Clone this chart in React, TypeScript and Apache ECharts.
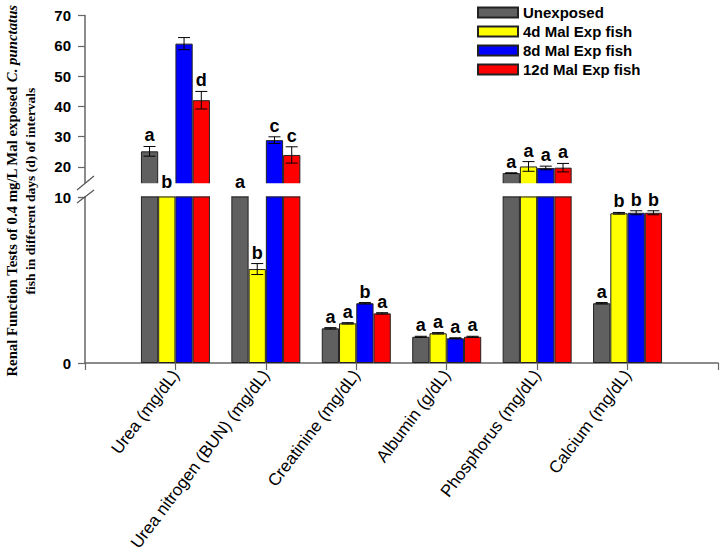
import React, { useEffect, useRef } from "react";
import * as echarts from "echarts";

const categories = [
  "Urea (mg/dL)",
  "Urea nitrogen (BUN) (mg/dL)",
  "Creatinine (mg/dL)",
  "Albumin (g/dL)",
  "Phosphorus (mg/dL)",
  "Calcium (mg/dL)",
];
const seriesNames = ["Unexposed", "4d Mal Exp fish", "8d Mal Exp fish", "12d Mal Exp fish"];
const seriesColors = ["#606060", "#ffff00", "#0000ff", "#ff0000"];

const unexposed = [25.1, 12, 2.09, 1.58, 17.9, 3.6];
const d4 = [12, 5.66, 2.39, 1.79, 20.1, 9.02];
const d8 = [60.7, 28.8, 3.6, 1.49, 19.6, 9.05];
const d12 = [42.0, 23.9, 2.99, 1.58, 19.7, 9.05];

const unexposedErr = [1.6, 0, 0.04, 0.03, 0.1, 0.04];
const d4Err = [0, 0.33, 0.04, 0.04, 1.6, 0.05];
const d8Err = [2.0, 1.1, 0.04, 0.03, 0.6, 0.12];
const d12Err = [2.9, 2.7, 0.04, 0.03, 1.4, 0.12];

const unexposedLetters = ["a", "a", "a", "a", "a", "a"];
const d4Letters = ["b", "b", "a", "a", "a", "b"];
const d8Letters = ["", "c", "b", "a", "a", "b"];
const d12Letters = ["d", "c", "a", "a", "a", "b"];

const upperTicks = [10, 20, 30, 40, 50, 60, 70];
const lowerTicks = [0, 10];

const values = [unexposed, d4, d8, d12];
const errors = [unexposedErr, d4Err, d8Err, d12Err];
const letters = [unexposedLetters, d4Letters, d8Letters, d12Letters];

const axisCats = ["", ...categories, ""];
const BREAK_LOW = 10;
const BREAK_HIGH = 15;
const GAP = 0.237;

type Item = { ci: number; s: number; v: number; e: number; letter: string };
const items: Item[] = [];
values.forEach((arr, s) => {
  arr.forEach((v, i) => {
    items.push({ ci: i + 1, s, v, e: errors[s][i], letter: letters[s][i] });
  });
});

const FONT = '"Liberation Sans", Arial, sans-serif';
const SERIF = '"Liberation Serif", "Times New Roman", serif';

function makeRender(upper: boolean) {
  return (params: any, api: any) => {
    const it = items[params.dataIndex];
    const band = api.size([1, 0])[0];
    const barW = (band * (1 - GAP)) / 4;
    const cx = api.coord([it.ci, 0])[0] + (it.s - 1.5) * barW;
    const children: any[] = [];
    let letterY: number | null = null;
    const inUpper = it.v >= BREAK_HIGH;
    const inLower = it.v <= BREAK_LOW;
    if ((upper && inUpper) || (!upper && inLower)) {
      const yTop = api.coord([it.ci, it.v + it.e])[1];
      const yBot = api.coord([it.ci, it.v - it.e])[1];
      if (it.e > 0) {
        const cap = 6;
        children.push(
          { type: "line", shape: { x1: cx, y1: yTop, x2: cx, y2: yBot }, style: { stroke: "#000", lineWidth: 1 } },
          { type: "line", shape: { x1: cx - cap, y1: yTop, x2: cx + cap, y2: yTop }, style: { stroke: "#000", lineWidth: 1 } },
          { type: "line", shape: { x1: cx - cap, y1: yBot, x2: cx + cap, y2: yBot }, style: { stroke: "#000", lineWidth: 1 } }
        );
      }
      letterY = yTop - 2;
    } else if (!upper && !inLower && !inUpper) {
      letterY = api.coord([it.ci, BREAK_LOW])[1] - 6;
    }
    if (letterY !== null && it.letter) {
      children.push({
        type: "text",
        x: cx,
        y: letterY,
        style: {
          text: it.letter,
          font: "bold 18px " + FONT,
          fill: "#000",
          align: "center",
          verticalAlign: "bottom",
        },
      });
    }
    return { type: "group", children };
  };
}

export default function App() {
  const ref = useRef<HTMLDivElement>(null);
  useEffect(() => {
    if (!ref.current) return;
    const chart = echarts.init(ref.current, null, { renderer: "svg" });
    const left = 85;
    const width = 633;
    const axisLineStyle = { color: "#666", width: 1.5 };
    const yLabel = { color: "#000", fontWeight: "bold" as const, fontSize: 15, fontFamily: FONT, margin: 14 };

    const barSeries: any[] = [];
    [0, 1].forEach((g) => {
      values.forEach((arr, s) => {
        barSeries.push({
          type: "bar",
          name: seriesNames[s],
          xAxisIndex: g,
          yAxisIndex: g,
          data: ["-", ...arr, "-"],
          barGap: "0%",
          barCategoryGap: (GAP * 100).toFixed(1) + "%",
          clip: true,
          itemStyle: { color: seriesColors[s], borderColor: "#222", borderWidth: 1 },
          emphasis: { disabled: true },
        });
      });
    });

    const customData = items.map((it) => [it.ci, it.s, it.v, it.e]);

    chart.setOption({
      animation: false,
      grid: [
        { left, width, top: 15.5, height: 181.5 },
        { left, width, top: 197, height: 166 },
      ],
      legend: {
        data: seriesNames,
        orient: "vertical",
        left: 472,
        top: 0,
        itemWidth: 40,
        itemHeight: 10,
        itemGap: 4,
        icon: "rect",
        selectedMode: false,
        textStyle: { color: "#000", fontWeight: "bold", fontSize: 15, fontFamily: FONT },
      },
      xAxis: [
        {
          gridIndex: 0,
          type: "category",
          data: axisCats,
          boundaryGap: false,
          axisLine: { show: false },
          axisTick: { show: false },
          axisLabel: { show: false },
          splitLine: { show: false },
        },
        {
          gridIndex: 1,
          type: "category",
          data: axisCats,
          boundaryGap: false,
          axisLine: { lineStyle: axisLineStyle },
          axisTick: { show: true, length: 7, lineStyle: { color: "#666", width: 1.2 }, alignWithLabel: true },
          axisLabel: {
            rotate: 53,
            interval: 0,
            color: "#000",
            fontSize: 17,
            fontFamily: FONT,
            margin: 9,
          },
          splitLine: { show: false },
        },
      ],
      yAxis: [
        {
          gridIndex: 0,
          type: "value",
          min: upperTicks[0],
          max: upperTicks[upperTicks.length - 1],
          interval: 10,
          axisLine: { show: true, lineStyle: axisLineStyle },
          axisTick: { show: true, length: 7, lineStyle: { color: "#666", width: 1.2 } },
          axisLabel: { ...yLabel, formatter: (v: number) => (v === upperTicks[0] ? "" : String(v)) },
          splitLine: { show: false },
        },
        {
          gridIndex: 1,
          type: "value",
          min: lowerTicks[0],
          max: lowerTicks[lowerTicks.length - 1],
          interval: 10,
          axisLine: { show: true, lineStyle: axisLineStyle },
          axisTick: { show: true, length: 7, lineStyle: { color: "#666", width: 1.2 } },
          axisLabel: yLabel,
          splitLine: { show: false },
        },
      ],
      series: [
        ...barSeries,
        {
          type: "custom",
          xAxisIndex: 0,
          yAxisIndex: 0,
          z: 100,
          encode: { x: 0, y: 2 },
          data: customData,
          renderItem: makeRender(true),
          silent: true,
        },
        {
          type: "custom",
          xAxisIndex: 1,
          yAxisIndex: 1,
          z: 100,
          encode: { x: 0, y: 2 },
          data: customData,
          renderItem: makeRender(false),
          silent: true,
        },
      ],
      graphic: [
        {
          type: "rect",
          z: 50,
          shape: { x: 80, y: 183.2, width: 642, height: 13.1 },
          style: { fill: "#fff" },
          silent: true,
        },
        {
          type: "line",
          z: 60,
          shape: { x1: 77, y1: 190, x2: 94, y2: 176 },
          style: { stroke: "#555", lineWidth: 1.2 },
        },
        {
          type: "line",
          z: 60,
          shape: { x1: 77, y1: 203, x2: 94, y2: 190 },
          style: { stroke: "#555", lineWidth: 1.2 },
        },
        {
          type: "text",
          x: 12,
          y: 191,
          rotation: Math.PI / 2,
          style: {
            text: "{n|Renal Function Tests of 0.4 mg/L Mal exposed }{i|C. punctatus}",
            align: "center",
            verticalAlign: "middle",
            rich: {
              n: { fontFamily: SERIF, fontWeight: "bold", fontSize: 14.8, fill: "#000" },
              i: { fontFamily: SERIF, fontWeight: "bold", fontStyle: "italic", fontSize: 14.8, fill: "#000" },
            },
          },
        },
        {
          type: "text",
          x: 30,
          y: 191,
          rotation: Math.PI / 2,
          style: {
            text: "fish in different days (d) of intervals",
            font: "bold 13.5px " + SERIF,
            fill: "#000",
            align: "center",
            verticalAlign: "middle",
          },
        },
      ],
    });
    return () => chart.dispose();
  }, []);
  return <div ref={ref} style={{ position: "absolute", left: 0, top: 0, width: 722, height: 556 }} />;
}
